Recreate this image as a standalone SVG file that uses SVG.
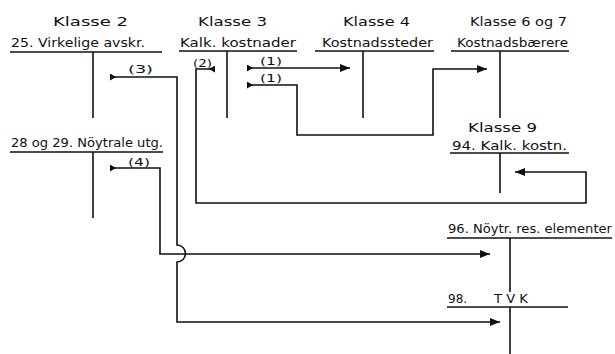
<svg xmlns="http://www.w3.org/2000/svg" width="615" height="354" viewBox="0 0 615 354">
<style>
  text { font-family: "DejaVu Sans", "Liberation Sans", sans-serif; fill: #111; }
  .h { font-size: 12.5px; }
  .t { font-size: 12px; }
  .s { font-size: 10.5px; }
  .ln { stroke: #111; stroke-width: 1.6; fill: none; }
  .cn { stroke: #111; stroke-width: 1.6; fill: none; marker-start: url(#tail); marker-end: url(#arr); }
</style>
<defs>
  <marker id="arr" viewBox="0 0 10 8" refX="10" refY="4" markerWidth="10" markerHeight="8" markerUnits="userSpaceOnUse" orient="auto">
    <path d="M0,0 L10,4 L0,8 z" fill="#111"/>
  </marker>
  <marker id="tail" viewBox="0 0 6 7" refX="0" refY="3.5" markerWidth="6" markerHeight="7" markerUnits="userSpaceOnUse" orient="auto">
    <path d="M0,0 L6,3.5 L0,7 z" fill="#111"/>
  </marker>
</defs>
<rect width="615" height="354" fill="#fff"/>

<g id="klasse2">
  <text class="h" x="53" y="26" textLength="75" lengthAdjust="spacingAndGlyphs">Klasse  2</text>
  <text class="t" x="11" y="47" textLength="134" lengthAdjust="spacingAndGlyphs">25. Virkelige avskr.</text>
  <line class="ln" x1="10" y1="52" x2="162" y2="52"/>
  <line class="ln" x1="93" y1="52" x2="93" y2="118"/>
</g>
<g id="klasse3">
  <text class="h" x="198" y="26" textLength="69" lengthAdjust="spacingAndGlyphs">Klasse  3</text>
  <text class="t" x="180" y="47" textLength="116" lengthAdjust="spacingAndGlyphs">Kalk. kostnader</text>
  <line class="ln" x1="179" y1="51" x2="297" y2="51"/>
  <line class="ln" x1="227" y1="51" x2="227" y2="118"/>
</g>
<g id="klasse4">
  <text class="h" x="343" y="26" textLength="67" lengthAdjust="spacingAndGlyphs">Klasse  4</text>
  <text class="t" x="322" y="47" textLength="111" lengthAdjust="spacingAndGlyphs">Kostnadssteder</text>
  <line class="ln" x1="315" y1="51" x2="434" y2="51"/>
  <line class="ln" x1="363" y1="51" x2="363" y2="118"/>
</g>
<g id="klasse67">
  <text class="h" x="470" y="26" textLength="97" lengthAdjust="spacingAndGlyphs">Klasse 6 og 7</text>
  <text class="t" x="457" y="47" textLength="111" lengthAdjust="spacingAndGlyphs">Kostnadsbærere</text>
  <line class="ln" x1="451" y1="51" x2="569" y2="51"/>
  <line class="ln" x1="500" y1="51" x2="500" y2="118"/>
</g>
<g id="klasse9">
  <text class="h" x="468" y="132" textLength="69" lengthAdjust="spacingAndGlyphs">Klasse  9</text>
  <text class="t" x="452" y="150" textLength="115" lengthAdjust="spacingAndGlyphs">94. Kalk. kostn.</text>
  <line class="ln" x1="450" y1="153" x2="569" y2="153"/>
  <line class="ln" x1="500" y1="153" x2="500" y2="193"/>
</g>
<g id="noytrale">
  <text class="t" x="11" y="147" textLength="152" lengthAdjust="spacingAndGlyphs">28 og 29. Nöytrale utg.</text>
  <line class="ln" x1="10" y1="152" x2="163" y2="152"/>
  <line class="ln" x1="93" y1="152" x2="93" y2="218"/>
</g>
<g id="res96">
  <text class="t" x="448" y="233" textLength="164" lengthAdjust="spacingAndGlyphs">96. Nöytr. res. elementer</text>
  <line class="ln" x1="447" y1="238" x2="612" y2="238"/>
  <line class="ln" x1="510" y1="238" x2="510" y2="292"/>
</g>
<g id="tvk98">
  <text class="t" x="448" y="303">98.</text>
  <text class="t" x="494" y="303" textLength="34" lengthAdjust="spacingAndGlyphs">T V K</text>
  <line class="ln" x1="447" y1="307" x2="568" y2="307"/>
  <line class="ln" x1="510" y1="307" x2="510" y2="354"/>
</g>

<g id="connectors">
  <path class="cn" d="M110,77 H177 V245 A8.5,8.5 0 0 1 177,262 V322 H500"/>
  <text class="s" x="128" y="73" textLength="25" lengthAdjust="spacingAndGlyphs">(3)</text>
  <path class="cn" d="M110,168 H160 V254 H490"/>
  <text class="s" x="128" y="166" textLength="22" lengthAdjust="spacingAndGlyphs">(4)</text>
  <path class="cn" d="M215,69 H196 V203 H586 V172 H515"/>
  <text class="s" x="193" y="67" textLength="19" lengthAdjust="spacingAndGlyphs">(2)</text>
  <path class="cn" d="M247,68 H350"/>
  <text class="s" x="260" y="65" textLength="22" lengthAdjust="spacingAndGlyphs">(1)</text>
  <path class="cn" d="M247,85 H297 V135 H433 V69 H487"/>
  <text class="s" x="260" y="82" textLength="22" lengthAdjust="spacingAndGlyphs">(1)</text>
</g>
</svg>
